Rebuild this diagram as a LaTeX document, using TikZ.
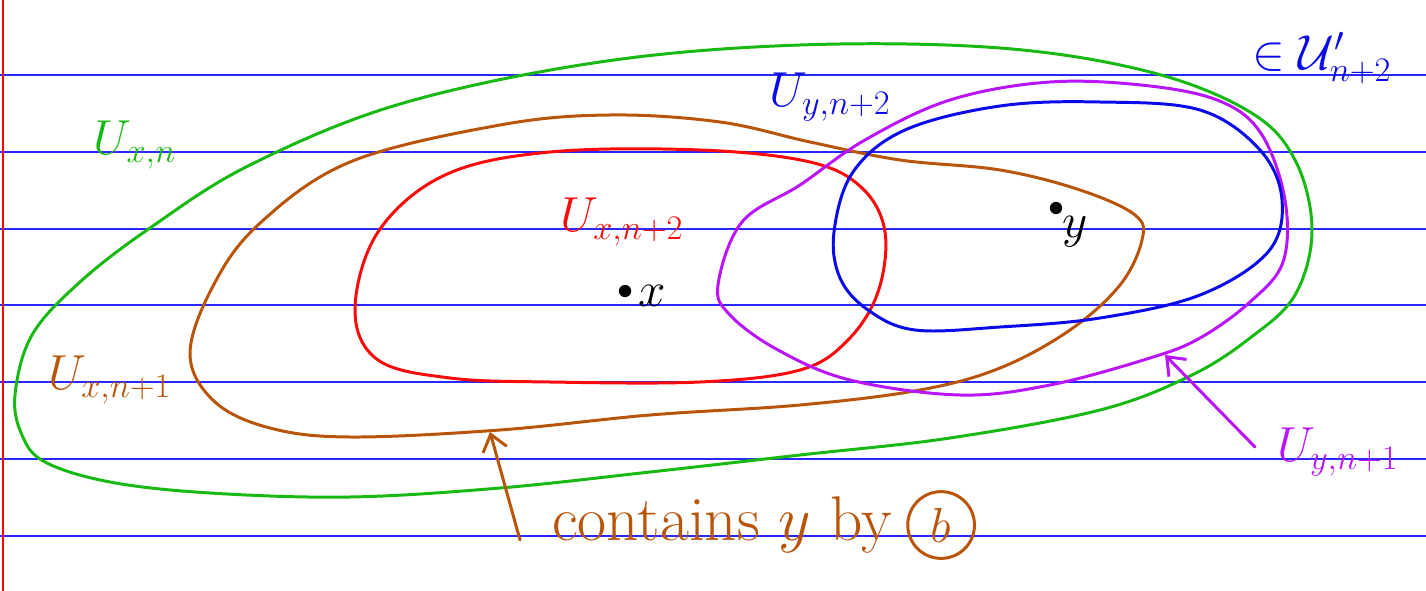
\RequirePackage{fix-cm}
\documentclass[tikz,border=0pt]{standalone}
\usepackage{amsmath,amssymb}
\usetikzlibrary{arrows.meta,positioning}
\definecolor{penGreen}{RGB}{25,185,20}
\definecolor{penBrown}{RGB}{185,85,10}
\definecolor{penRed}{RGB}{250,10,10}
\definecolor{penPurple}{RGB}{185,20,250}
\definecolor{penBlue}{RGB}{10,10,235}
\definecolor{ruleBlue}{RGB}{40,40,255}

\begin{document}
\begin{tikzpicture}[x=0.02cm,y=-0.02cm,
  pen/.style={line width=1.7pt,line cap=round,line join=round},
  lab/.style={font=\fontsize{28}{34}\selectfont,inner sep=0pt}]
\useasboundingbox (0,0) rectangle (1426,591);
% ruled paper
\foreach \y in {75,152,229,305,382,459,536}
  \draw[ruleBlue,line width=0.6pt] (0,\y)--(1426,\y);
\draw[red,line width=0.6pt] (3,0)--(3,591);
% neighbourhoods
\draw[pen,penGreen] plot[smooth cycle,tension=0.6] coordinates {(15,395) (32,335) (80,282) (150,228) (250,165) (400,104) (600,62) (800,45) (1000,48) (1150,72) (1250,112) (1295,160) (1312,230) (1295,295) (1250,338) (1190,376) (1100,410) (950,438) (800,455) (650,472) (500,488) (350,497) (210,493) (110,482) (45,462) (22,435)};
\draw[pen,penBrown] plot[smooth cycle,tension=0.6] coordinates {(190,355) (212,288) (258,225) (350,162) (500,125) (610,115) (720,122) (810,142) (900,160) (1000,170) (1080,190) (1135,215) (1142,240) (1120,285) (1070,330) (1000,368) (920,390) (800,405) (650,415) (500,430) (350,437) (270,428) (215,402)};
\draw[pen,penRed] plot[smooth cycle,tension=0.6] coordinates {(355,310) (378,232) (445,175) (550,152) (700,150) (810,162) (862,188) (885,232) (878,292) (848,340) (800,370) (700,382) (550,382) (450,378) (378,360)};
\draw[pen,penPurple] plot[smooth cycle,tension=0.6] coordinates {(718,285) (742,222) (800,185) (865,140) (950,100) (1050,82) (1150,86) (1222,102) (1262,135) (1285,200) (1283,262) (1250,302) (1200,338) (1150,358) (1050,385) (960,395) (850,380) (778,350) (730,315)};
\draw[pen,penBlue] plot[smooth cycle,tension=0.6] coordinates {(834,232) (853,172) (905,130) (1000,106) (1100,102) (1200,110) (1260,150) (1282,200) (1268,252) (1200,295) (1100,318) (1000,327) (915,330) (868,310) (840,278)};
% points
\fill (625,291) circle (3.5pt);
\node[lab] (ptx) at (652,296) {$x$};
\fill (1056,208) circle (3.5pt);
\node[lab] (pty) at (1075,232) {$y$};
% labels
\node[lab,penGreen] (uxn) at (135,145) {$U_{x,n}$};
\node[lab,penRed] (uxn2) at (622,222) {$U_{x,n+2}$};
\node[lab,penBlue] (uyn2) at (830,97) {$U_{y,n+2}$};
\node[lab,penBlue] (cover) at (1322,58) {$\in\mathcal{U}'_{n+2}$};
\node[lab,penBrown] (uxn1) at (110,380) {$U_{x,n+1}$};
\node[lab,penPurple] (uyn1) at (1338,452) {$U_{y,n+1}$};
\node[lab,penBrown,font=\fontsize{36}{42}\selectfont] (contains) at (722,525) {contains $y$ by};
\node[lab,penBrown,draw,circle,line width=1.7pt,minimum size=38pt,right=8pt of contains] (lemb) {$b$};
% arrows
\coordinate (onpurple) at (1165,355);
\coordinate (onbrown) at (490,432);
\coordinate (tailbrown) at (520,540);
\draw[pen,penPurple,-{Straight Barb[length=9pt,width=14pt]}] (uyn1.west)++(-22,-5) -- (onpurple);
\draw[pen,penBrown,-{Straight Barb[length=9pt,width=14pt]}] (tailbrown) -- (onbrown);
\end{tikzpicture}
\end{document}
